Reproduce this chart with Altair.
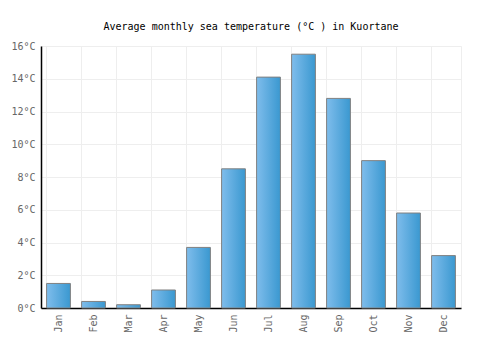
import altair as alt
import pandas as pd

months = ["Jan", "Feb", "Mar", "Apr", "May", "Jun", "Jul", "Aug", "Sep", "Oct", "Nov", "Dec"]
temps = [1.5, 0.4, 0.2, 1.1, 3.7, 8.5, 14.1, 15.5, 12.8, 9.0, 5.8, 3.2]
y_ticks = [0, 2, 4, 6, 8, 10, 12, 14, 16]

df = pd.DataFrame({"month": months, "temp": temps})
FONT = "DejaVu Sans Mono"

bars = alt.Chart(df).mark_bar(
    color=alt.Gradient(
        gradient="linear", x1=0, x2=1, y1=0, y2=0,
        stops=[alt.GradientStop(offset=0, color="#7fbdec"),
               alt.GradientStop(offset=1, color="#3a98d0")]),
    stroke="#808080", strokeWidth=1,
).encode(
    x=alt.X("month:N", sort=months, title=None,
            scale=alt.Scale(paddingInner=0.32, paddingOuter=0.16),
            axis=alt.Axis(labelAngle=270, labelFont=FONT, labelFontSize=10,
                          labelColor="#666666", domainColor="#000000", domainWidth=1.5,
                          ticks=False, grid=True, gridColor="#eeeeee", bandPosition=0,
                          labelPadding=6, labelBaseline="middle")),
    y=alt.Y("temp:Q", title=None,
            scale=alt.Scale(domain=[0, 16], nice=False),
            axis=alt.Axis(values=y_ticks, labelExpr="datum.value + '°C'",
                          labelFont=FONT, labelFontSize=10, labelColor="#666666",
                          domainColor="#000000", domainWidth=1.5, ticks=False,
                          gridColor="#eeeeee", labelPadding=6)),
)

chart = bars.properties(
    width=420, height=262,
    title=alt.TitleParams("Average monthly sea temperature (°C ) in Kuortane",
                          font=FONT, fontSize=10, fontWeight="normal", color="#000000",
                          offset=9),
    autosize=alt.AutoSizeParams(type="none"),
    padding={"left": 41, "top": 46, "right": 39, "bottom": 42},
).configure_view(stroke="#eeeeee")

chart.save("out.html", embed_options={"renderer": "svg", "actions": False})
